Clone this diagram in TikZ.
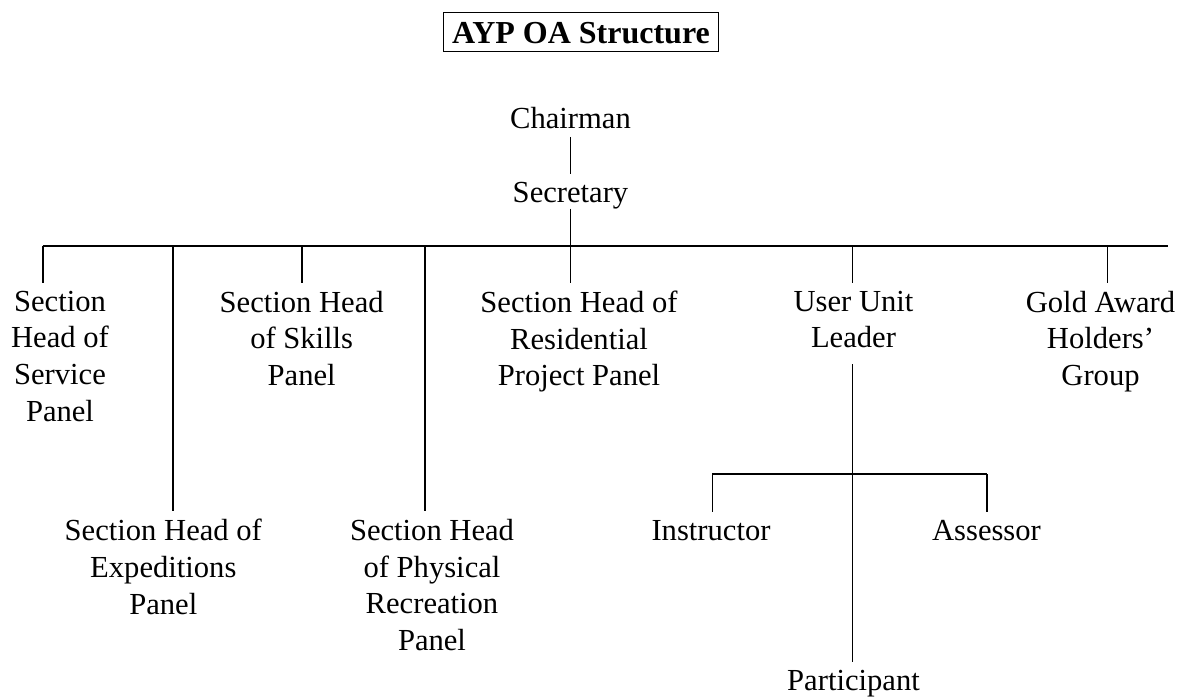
\documentclass[tikz,border=0pt]{standalone}
\usepackage{fontspec}
\setmainfont{Liberation Serif}
\usetikzlibrary{positioning}

\tikzset{
    post/.style={align=center, inner xsep=2pt, inner ysep=8pt, anchor=north,
        font=\fontsize{30.6}{36.6}\selectfont},
    bus/.style={line width=1.8pt},
    link/.style={line width=1.6pt},
    thin link/.style={line width=1.1pt}
}

\begin{document}
\begin{tikzpicture}[x=1pt, y=-1pt]
    \useasboundingbox (0,0) rectangle (1181,698);

    \node[draw, line width=1.3pt, inner xsep=8.5pt, inner ysep=0pt, text height=31.7pt, text depth=7.7pt, anchor=base,
        font=\bfseries\fontsize{32}{38}\selectfont] (title) at (581,44) {AYP OA Structure};

    \node[post, anchor=base] (chair) at (570.5,128.3) {Chairman};
    \node[post, below = 37.7pt of chair] (sec) {Secretary};

    \node[post] (serv) at (60,282.8) {Section\\Head of\\Service\\Panel};
    \node[post] (skil) at (301.7,282.8) {Section Head\\of Skills\\Panel};
    \node[post] (resi) at (579,282.8) {Section Head of\\Residential\\Project Panel};
    \node[post] (lead) at (853.5,282.8) {User Unit\\Leader};
    \node[post] (gold) at (1100.5,282.8) {Gold Award\\Holders’\\Group};
    \node[post] (expe) at (163.3,511.1) {Section Head of\\Expeditions\\Panel};
    \node[post] (phys) at (432,511.1) {Section Head\\of Physical\\Recreation\\Panel};
    \node[post, anchor=base] (inst) at (711,540) {Instructor};
    \node[post, anchor=base] (asse) at (986.5,540) {Assessor};
    \node[post, below = 306pt of lead] (part) {Participant};

    \coordinate (busL) at (42.7,245.7);
    \coordinate (busR) at (1167.7,245.7);
    \coordinate (jExpe) at (172.7,245.7);
    \coordinate (jSkil) at (301.7,245.7);
    \coordinate (jPhys) at (424.7,245.7);
    \coordinate (jLead) at (852.3,245.7);
    \coordinate (jGold) at (1107.3,245.7);
    \coordinate (subL) at (712.3,474);
    \coordinate (subR) at (987,474);

    \draw[link] (chair) -- (sec);
    \draw[link, shorten <=5.6pt] (sec.base) -- (sec.base |- busL);
    \draw[bus] (busL) -- (busR);
    \draw[link] (busL) -- (busL |- serv.north);
    \draw[link] (jExpe) -- (jExpe |- expe.north);
    \draw[link] (jSkil) -- (jSkil |- skil.north);
    \draw[link] (jPhys) -- (jPhys |- phys.north);
    \draw[link] (sec.base |- busL) -- (sec.base |- resi.north);
    \draw[thin link] (jLead) -- (jLead |- lead.north);
    \draw[thin link] (jGold) -- (jGold |- gold.north);
    \draw[thin link, shorten <=8pt] (lead.south -| jLead) -- (jLead |- part.north);
    \draw[link] (subL) -- (subR);
    \draw[thin link] (subL) -- (subL |- inst.north);
    \draw[thin link] (subR) -- (subR |- asse.north);
\end{tikzpicture}
\end{document}
